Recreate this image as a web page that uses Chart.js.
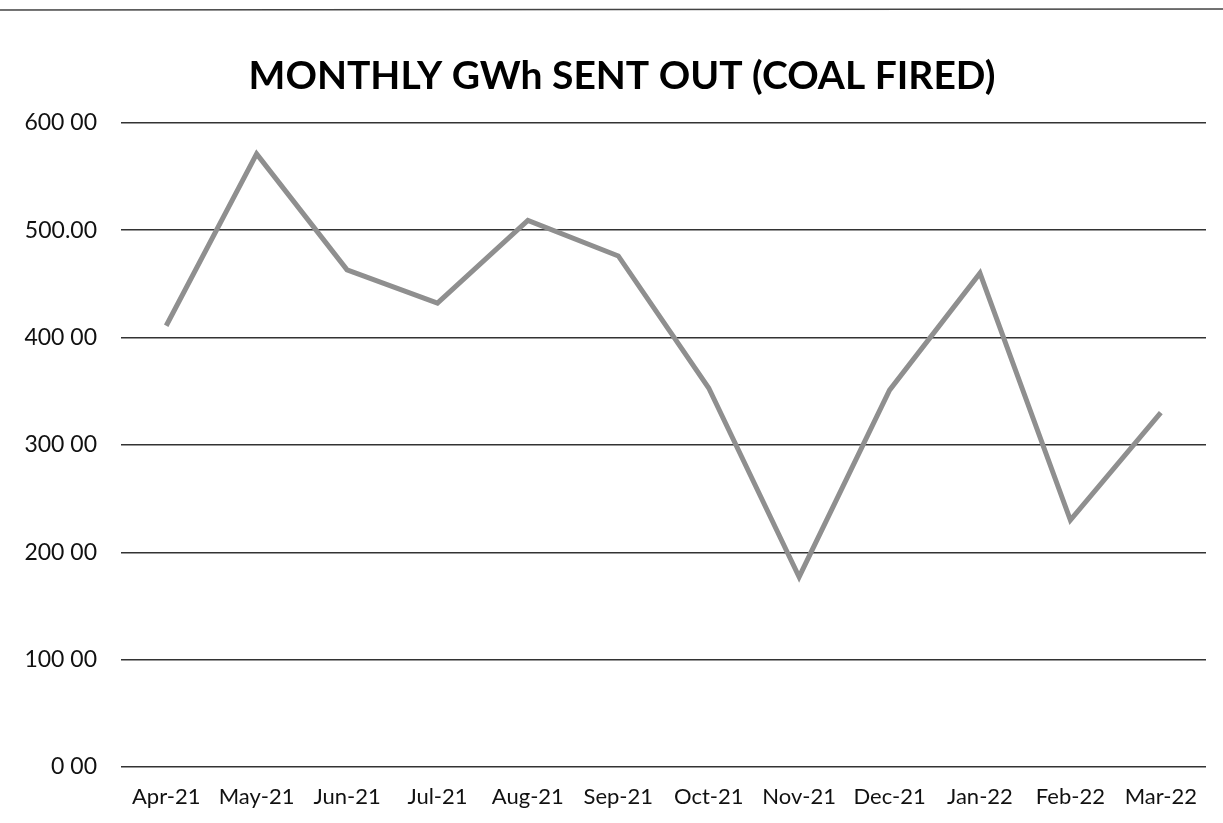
<!DOCTYPE html>
<html>
<head>
<meta charset="utf-8">
<script src="https://cdn.jsdelivr.net/npm/chart.js@4.4.1/dist/chart.umd.min.js"></script>
<style>
  html, body { margin: 0; padding: 0; background: #ffffff; }
  #wrap { width: 1223px; height: 823px; position: relative; }
</style>
</head>
<body>
<div id="wrap"><canvas id="c" width="1223" height="823"></canvas></div>
<script>
const months = ["Apr-21","May-21","Jun-21","Jul-21","Aug-21","Sep-21","Oct-21","Nov-21","Dec-21","Jan-22","Feb-22","Mar-22"];
const gwhSentOut = [411, 571, 463, 432, 509, 476, 353, 177, 351, 460, 230, 330];
const yTickValues = [0, 100, 200, 300, 400, 500, 600];
const yTickLabels = ["0 00", "100 00", "200 00", "300 00", "400 00", "500.00", "600 00"];
const chartTitle = "MONTHLY GWh SENT OUT (COAL FIRED)";

const topRule = {
  id: 'topRule',
  beforeDraw(chart) {
    const ctx = chart.ctx;
    ctx.save();
    ctx.strokeStyle = '#444';
    ctx.lineWidth = 1.3;
    ctx.beginPath();
    ctx.moveTo(0, 10);
    ctx.lineTo(chart.width, 9);
    ctx.stroke();
    ctx.restore();
  }
};

// centre the title over the page as in the original (shift right a little)
const titleShift = {
  id: 'titleShift',
  afterLayout(chart) {
    const t = chart.titleBlock;
    if (t) { t.left += 19; t.right += 19; }
  }
};

new Chart(document.getElementById('c'), {
  type: 'line',
  data: {
    labels: months,
    datasets: [{
      label: 'GWh sent out',
      data: gwhSentOut,
      borderColor: '#8f8f8f',
      borderWidth: 5,
      pointRadius: 0,
      tension: 0,
      fill: false
    }]
  },
  options: {
    responsive: false,
    animation: false,
    layout: { padding: { left: 0, right: 17, top: 0, bottom: 0 } },
    plugins: {
      legend: { display: false },
      tooltip: { enabled: false },
      title: {
        display: true,
        text: chartTitle,
        color: '#000',
        font: { family: 'Lato', size: 39, weight: 'bold' },
        padding: { top: 53, bottom: 23 }
      }
    },
    scales: {
      x: {
        offset: true,
        afterFit(scale) { scale.height = 56; },
        grid: { display: false, drawTicks: false },
        border: { display: false },
        ticks: {
          color: '#111',
          font: { family: 'Lato', size: 22 },
          padding: 17,
          maxRotation: 0,
          autoSkip: false
        }
      },
      y: {
        min: 0,
        max: 600,
        afterFit(scale) { scale.width = 121; },
        afterBuildTicks(scale) { scale.ticks = yTickValues.map(v => ({ value: v })); },
        grid: { color: '#333', lineWidth: 1.5, drawTicks: false },
        border: { display: false },
        ticks: {
          color: '#111',
          font: { family: 'Lato', size: 23 },
          padding: 24,
          callback: (v) => yTickLabels[yTickValues.indexOf(v)]
        }
      }
    }
  },
  plugins: [topRule, titleShift]
});
</script>
</body>
</html>
